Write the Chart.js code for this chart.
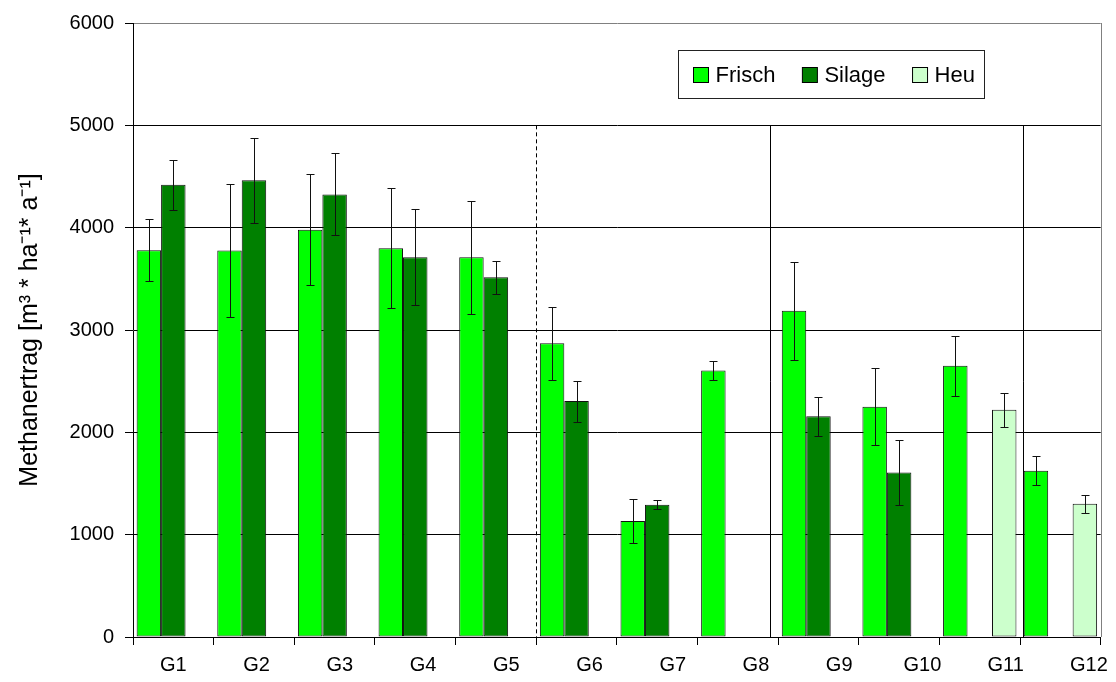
<!DOCTYPE html>
<html>
<head>
<meta charset="utf-8">
<script src="https://cdn.jsdelivr.net/npm/chart.js@4.4.0/dist/chart.umd.min.js"></script>
<style>
  html, body { margin: 0; padding: 0; background: #fff; }
  #wrap { width: 1116px; height: 682px; position: relative; }
</style>
</head>
<body>
<div id="wrap"><canvas id="chart"></canvas></div>
<script>
// data
const groups = ['G1', 'G2', 'G3', 'G4', 'G5', 'G6', 'G7', 'G8', 'G9', 'G10', 'G11', 'G12']
const frisch = [3780, 3776, 3980, 3800, 3711, 2870, 1133, 2604, 3188, 2250, 2650, 1624]
const frischErr = [300, 650, 545, 587, 550, 355, 214, 97, 480, 378, 294, 140]
const silage = [4420, 4464, 4325, 3711, 3516, 2305, 1292, 0, 2156, 1607, 0, 0]
const silageErr = [245, 415, 400, 470, 160, 200, 42, 0, 190, 317, 0, 0]
const heu = [0, 0, 0, 0, 0, 0, 0, 0, 0, 0, 2221, 1302]
const heuErr = [0, 0, 0, 0, 0, 0, 0, 0, 0, 0, 165, 88]
const yTicks = [0, 1000, 2000, 3000, 4000, 5000, 6000]

// vertical divider lines, in category units, running from 0 up to dividerTop
const dividers = [4.5, 7.4, 10.54]
const dividerDashed = [true, false, false]
const dividerTop = 5000

// the group labels sit on their own axis, which runs a little wider than the bars
const labelAxisMin = 0.516, labelAxisMax = 12.142

Chart.defaults.font.family = '"Liberation Sans", Arial, sans-serif'
Chart.defaults.color = '#000'

// error bars drawn from each bar's value +/- err
const errorBars = {
    id: 'errorBars',
    afterDatasetsDraw(chart) {
        const ctx = chart.ctx, y = chart.scales.y
        ctx.save()
        ctx.strokeStyle = '#111'
        ctx.lineWidth = 1
        chart.data.datasets.forEach((ds, di) => {
            const meta = chart.getDatasetMeta(di)
            meta.data.forEach((bar, i) => {
                const e = ds.errors[i]
                if (!e) return
                const top = Math.round(y.getPixelForValue(ds.data[i] + e)) + 0.5
                const bot = Math.round(y.getPixelForValue(ds.data[i] - e)) + 0.5
                const x = Math.round(bar.x) + 0.5
                ctx.beginPath()
                ctx.moveTo(x, top); ctx.lineTo(x, bot)
                ctx.moveTo(x - 4, top); ctx.lineTo(x + 4, top)
                ctx.moveTo(x - 4, bot); ctx.lineTo(x + 4, bot)
                ctx.stroke()
            })
        })
        ctx.restore()
    }
}

// dividers and the grey right frame
const frame = {
    id: 'frame',
    beforeDatasetsDraw(chart) {
        const ctx = chart.ctx, x = chart.scales.x, y = chart.scales.y
        const area = chart.chartArea
        ctx.save()
        ctx.lineWidth = 1
        ctx.strokeStyle = '#000'
        dividers.forEach((d, i) => {
            const px = Math.round(x.getPixelForValue(d)) + 0.5
            ctx.setLineDash(dividerDashed[i] ? [4, 3] : [])
            ctx.beginPath()
            ctx.moveTo(px, y.getPixelForValue(dividerTop))
            ctx.lineTo(px, y.getPixelForValue(0))
            ctx.stroke()
        })
        ctx.setLineDash([])
        ctx.strokeStyle = '#808080'
        ctx.beginPath()
        ctx.moveTo(Math.round(area.right) + 0.5, area.top)
        ctx.lineTo(Math.round(area.right) + 0.5, area.bottom)
        ctx.stroke()
        ctx.restore()
    }
}

// boxed legend inside the plot, top right
const boxLegend = {
    id: 'boxLegend',
    afterDraw(chart) {
        const ctx = chart.ctx, area = chart.chartArea
        const bx = Math.round(area.left + 545) + 0.5, by = Math.round(area.top + 27) + 0.5
        const bw = 306, bh = 48
        ctx.save()
        ctx.fillStyle = '#fff'
        ctx.fillRect(bx, by, bw, bh)
        ctx.strokeStyle = '#222'
        ctx.lineWidth = 1
        ctx.strokeRect(bx, by, bw, bh)
        ctx.font = '22px "Liberation Sans", Arial, sans-serif'
        ctx.textBaseline = 'middle'
        let cx = bx + 15
        chart.data.datasets.forEach(ds => {
            ctx.fillStyle = ds.backgroundColor
            ctx.fillRect(cx, by + 17, 15, 15)
            ctx.strokeStyle = '#000'
            ctx.strokeRect(cx, by + 17, 15, 15)
            ctx.fillStyle = '#000'
            ctx.fillText(ds.label, cx + 22, by + 25)
            cx += 22 + ctx.measureText(ds.label).width + 27
        })
        ctx.restore()
    }
}

const barStyle = { borderColor: '#111', borderWidth: 1, borderSkipped: false, categoryPercentage: 0.91, barPercentage: 1 }

new Chart(document.getElementById('chart'), {
    type: 'bar',
    data: {
        labels: groups,
        datasets: [
            { label: 'Frisch', data: frisch, errors: frischErr, backgroundColor: '#00ff00', ...barStyle },
            { label: 'Silage', data: silage, errors: silageErr, backgroundColor: '#008000', ...barStyle },
            { label: 'Heu', data: heu, errors: heuErr, backgroundColor: '#ccffcc', ...barStyle }
        ]
    },
    options: {
        responsive: true,
        maintainAspectRatio: false,
        animation: false,
        devicePixelRatio: 1,
        layout: { padding: { top: 21, right: 15, left: 0, bottom: 0 } },
        plugins: { legend: { display: false }, tooltip: { enabled: false } },
        scales: {
            x: {
                type: 'category',
                offset: true,
                grid: { offset: true, drawOnChartArea: false, drawTicks: true, tickLength: 8, color: '#000' },
                border: { color: '#000' },
                ticks: { display: false },
                afterFit: (s) => { s.height = 8 }
            },
            xl: {
                type: 'linear',
                position: 'bottom',
                weight: 1,
                offset: false,
                bounds: 'data',
                min: labelAxisMin,
                max: labelAxisMax,
                grid: { display: false, drawTicks: false, offset: false },
                border: { display: false },
                afterBuildTicks: (s) => {
                    s.ticks = groups.map((g, i) => ({ value: i + 1 }))
                    s.min = labelAxisMin
                    s.max = labelAxisMax
                },
                ticks: {
                    autoSkip: false,
                    maxRotation: 0,
                    padding: 8,
                    font: { size: 20 },
                    callback: (v) => groups[v - 1]
                },
                afterFit: (s) => { s.height = 37 }
            },
            y: {
                min: 0,
                max: 6000,
                afterBuildTicks: (s) => { s.ticks = yTicks.map(v => ({ value: v })) },
                ticks: { padding: 11, font: { size: 20 }, callback: (v) => String(v) },
                grid: {
                    color: (c) => c.tick && c.tick.value === 6000 ? '#808080' : '#000',
                    tickColor: '#000',
                    tickLength: 8
                },
                border: { color: '#000' },
                title: {
                    display: true,
                    text: 'Methanertrag [m³ * ha⁻¹* a⁻¹]',
                    font: { size: 25 },
                    padding: { top: 15, bottom: 0 }
                },
                afterFit: (s) => { s.width = 133 }
            }
        }
    },
    plugins: [frame, errorBars, boxLegend]
})
</script>
</body>
</html>
